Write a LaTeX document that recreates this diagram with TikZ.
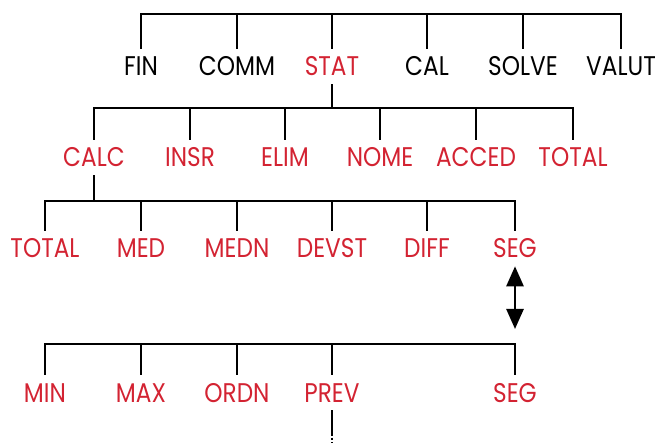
\documentclass[tikz,border=0pt]{standalone}
\usepackage{fontspec}
\setmainfont[FakeStretch=0.86]{Poppins}
\usetikzlibrary{arrows.meta}
\definecolor{menured}{RGB}{211,35,50}
\begin{document}
\begin{tikzpicture}[x=1pt,y=-1pt,line width=2.6pt,
	item/.style={anchor=base,inner xsep=0pt,inner ysep=7pt,text height=19pt,text depth=0pt,font=\fontsize{27}{29}\selectfont},
	sel/.style={item,text=menured},
	updown/.style={{Triangle[width=17pt,length=20pt]}-{Triangle[width=17pt,length=20pt]}}]
	\useasboundingbox (0,0) rectangle (658,443);
	% first level
	\coordinate (bar1) at (0,14);
	\node[item] (fin) at (141,76) {FIN};
	\node[item] (comm) at (237,76) {COMM};
	\node[sel] (stat) at (332,76) {STAT};
	\node[item] (cal) at (427,76) {CAL};
	\node[item] (solve) at (523,76) {SOLVE};
	\node[item] (valut) at (621,76) {VALUT};
	\draw (fin) -- (fin |- bar1) -- (valut |- bar1) -- (valut);
	\foreach \n in {comm,stat,cal,solve} \draw (\n) -- (\n |- bar1);
	% STAT menu
	\coordinate (bar2) at (0,108);
	\node[sel] (calc) at (94,167) {CALC};
	\node[sel] (insr) at (190,167) {INSR};
	\node[sel] (elim) at (285,167) {ELIM};
	\node[sel] (nome) at (380,167) {NOME};
	\node[sel] (acced) at (476,167) {ACCED};
	\node[sel] (total) at (573,167) {TOTAL};
	\draw (stat) -- (stat |- bar2);
	\draw (calc) -- (calc |- bar2) -- (total |- bar2) -- (total);
	\foreach \n in {insr,elim,nome,acced} \draw (\n) -- (\n |- bar2);
	% CALC menu
	\coordinate (bar3) at (0,201);
	\node[sel] (ctotal) at (45,258) {TOTAL};
	\node[sel] (med) at (141,258) {MED};
	\node[sel] (medn) at (237,258) {MEDN};
	\node[sel] (devst) at (332,258) {DEVST};
	\node[sel] (diff) at (427,258) {DIFF};
	\node[sel] (segA) at (515,258) {SEG};
	\draw (calc) -- (calc |- bar3);
	\draw (ctotal) -- (ctotal |- bar3) -- (segA |- bar3) -- (segA);
	\foreach \n in {med,medn,devst,diff} \draw (\n) -- (\n |- bar3);
	% second page
	\coordinate (bar4) at (0,344);
	\coordinate (segtip) at (515,329);
	\node[sel] (min) at (45,402) {MIN};
	\node[sel] (max) at (141,402) {MAX};
	\node[sel] (ordn) at (237,402) {ORDN};
	\node[sel] (prev) at (332,402) {PREV};
	\node[sel] (segB) at (515,402) {SEG};
	\draw[updown] (segA) -- (segtip);
	\draw (min) -- (min |- bar4) -- (segB |- bar4) -- (segB);
	\foreach \n in {max,ordn,prev} \draw (\n) -- (\n |- bar4);
	\coordinate (more) at (332,433);
	\coordinate (moreend) at (332,443);
	\draw (prev) -- (more);
	\draw[dotted] (more) -- (moreend);
\end{tikzpicture}
\end{document}
